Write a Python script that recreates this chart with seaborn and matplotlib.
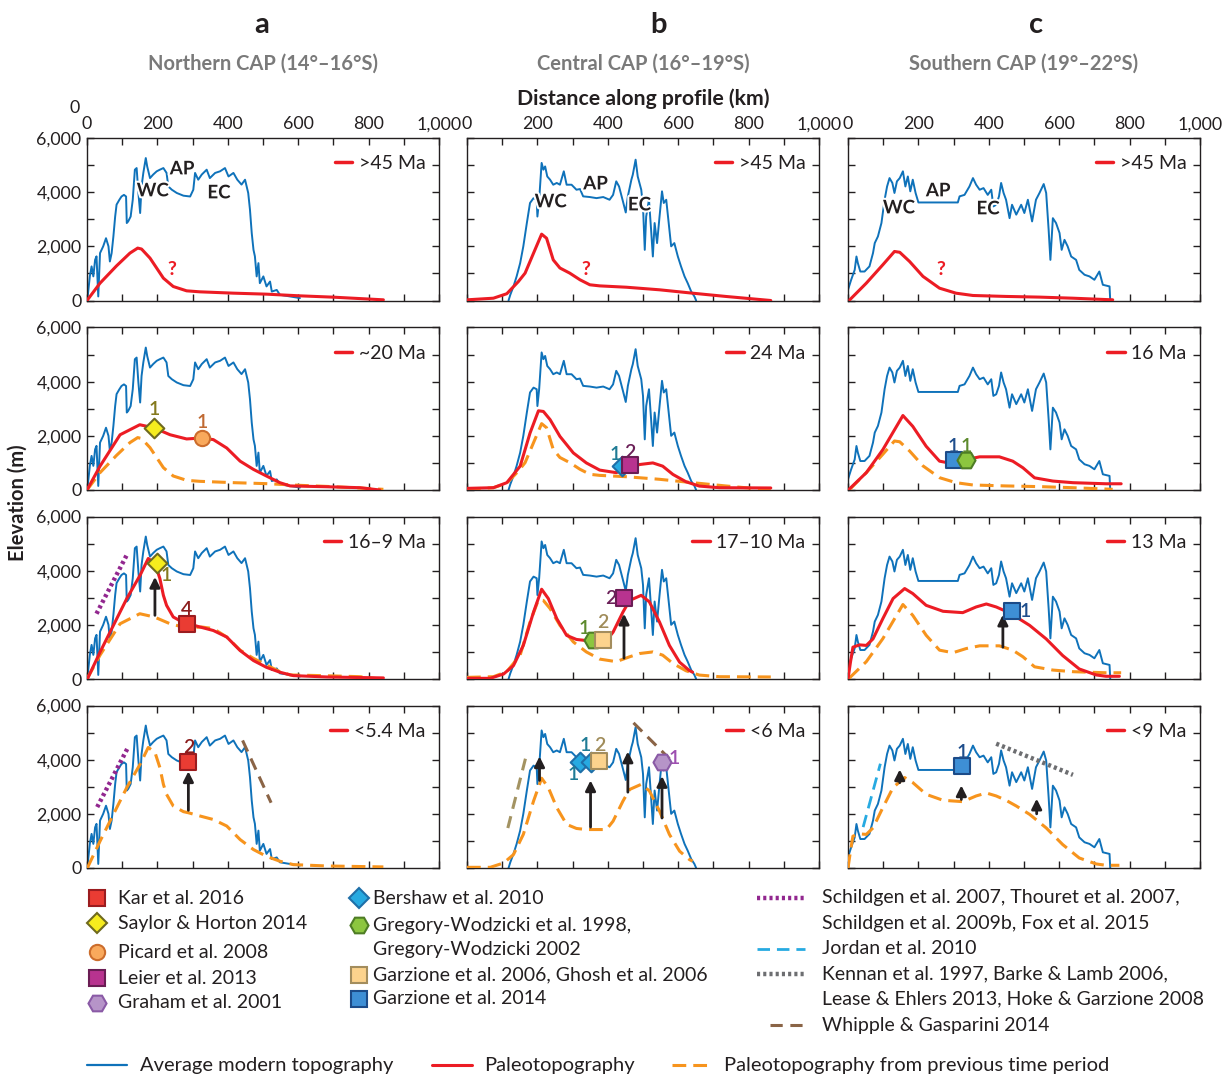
import matplotlib
matplotlib.use("Agg")
import matplotlib.pyplot as plt
import matplotlib.patheffects as pe
from matplotlib.lines import Line2D
import seaborn as sns
import numpy as np

# ---------------- DATA ----------------
# Average modern topography (km along profile, elevation m)
TOPO_A_KM = [2, 8, 13, 18, 23, 27, 32, 37, 46, 54, 61, 65, 70, 75, 80, 84, 92, 98, 105, 111,
             113, 117, 124, 130, 136, 141, 146, 151, 155, 160, 167, 171, 179, 188, 198, 207, 217, 226, 231, 241,
             255, 274, 293, 302, 307, 316, 326, 340, 349, 364, 378, 392, 402, 416, 427, 439, 449, 458, 463, 468,
             473, 477, 482, 487, 491, 501, 510, 520, 525, 539, 548, 567, 605]
TOPO_A_M = [150, 890, 1260, 890, 1500, 1630, 150, 1750, 2000, 2300, 2000, 1440, 1750, 2370, 3100, 3540, 3720, 3840, 3900, 3840,
            2860, 2920, 3100, 3720, 4830, 4890, 3970, 3230, 4210, 4710, 5260, 4950, 4520, 4650, 4770, 4830, 4890, 4710, 4210, 4090,
            3970, 3870, 3840, 4090, 4710, 4460, 4650, 4830, 4520, 4710, 4770, 4890, 4580, 4710, 4460, 4280, 4460, 3970, 3350, 2490,
            1870, 1630, 890, 1380, 640, 890, 520, 700, 330, 390, 210, 170, 90]
TOPO_B_KM = [118, 123, 132, 141, 151, 160, 170, 179, 189, 198, 200, 205, 212, 217, 222, 228, 236, 245, 255, 264,
             275, 283, 297, 311, 321, 330, 349, 368, 387, 405, 415, 424, 432, 443, 451, 457, 467, 471, 479, 485,
             495, 500, 505, 509, 517, 523, 528, 533, 540, 547, 554, 559, 566, 573, 580, 589, 599, 608, 618, 627,
             637, 646, 651]
TOPO_B_M = [0, 210, 520, 890, 1380, 2000, 2860, 3600, 3780, 3720, 3100, 3720, 5080, 4830, 4950, 4580, 4460, 4275, 4340, 4275,
            4770, 4275, 4275, 4090, 4115, 3845, 3820, 3780, 3820, 3720, 3900, 4400, 4210, 3660, 3250, 3845, 4460, 4645, 5200, 4580,
            4090, 3475, 1870, 3100, 3720, 2610, 1625, 2860, 2120, 3100, 4030, 3600, 3720, 2860, 2000, 2120, 1625, 1260, 890, 640,
            330, 150, 0]
TOPO_C_KM = [0, 9, 19, 24, 28, 35, 47, 61, 71, 76, 85, 95, 104, 111, 118, 126, 132, 139, 147, 156,
             163, 170, 177, 184, 192, 200, 312, 317, 331, 345, 355, 364, 374, 385, 397, 407, 413, 421, 429, 435,
             442, 449, 459, 466, 478, 492, 501, 511, 523, 534, 544, 556, 563, 570, 575, 582, 591, 601, 607, 615,
             624, 634, 648, 657, 672, 686, 700, 714, 724, 743, 745]
TOPO_C_M = [395, 765, 1130, 1625, 1380, 1070, 1070, 1260, 1750, 2120, 2365, 2860, 3720, 4210, 4520, 4340, 3970, 4400, 4520, 4770,
            4210, 4580, 4030, 4460, 3970, 3620, 3620, 3845, 3900, 4210, 4520, 4275, 4090, 4150, 3900, 4090, 3475, 3535, 3845, 4340,
            3970, 3720, 3040, 3535, 3170, 3535, 3230, 3720, 2920, 3720, 3970, 4300, 3970, 2610, 1500, 3040, 2860, 2490, 1870, 2240,
            2000, 1625, 1500, 1130, 950, 890, 765, 1070, 580, 520, 0]

# Paleotopography, column a (Northern CAP)
PALEO_A1_KM = [0, 37, 84, 122, 144, 155, 179, 198, 217, 245, 283, 321, 416, 510, 605, 700, 842]
PALEO_A1_M = [0, 640, 1280, 1750, 1935, 1900, 1565, 1195, 825, 517, 357, 320, 271, 234, 172, 123, 25]
PALEO_A2_KM = [0, 37, 94, 150, 191, 236, 283, 326, 359, 397, 435, 473, 510, 548, 577, 681, 776, 832]
PALEO_A2_M = [0, 880, 2040, 2410, 2290, 2040, 1885, 1920, 1860, 1550, 1065, 760, 515, 270, 150, 120, 85, 0]
PALEO_A3_KM = [1, 37, 75, 113, 151, 174, 193, 207, 217, 226, 245, 274, 288, 321, 359, 397, 435, 473, 510, 548, 586, 681, 842]
PALEO_A3_M = [0, 990, 1980, 2970, 3835, 4450, 4270, 3710, 3090, 2720, 2290, 2080, 2040, 1920, 1790, 1550, 1050, 680, 430, 250, 125, 75, 40]
# column b (Central CAP)
PALEO_B1_KM = [0, 75, 113, 146, 165, 193, 212, 226, 245, 264, 292, 321, 349, 377, 453, 547, 641, 735, 863]
PALEO_B1_M = [25, 85, 250, 700, 1010, 1870, 2450, 2300, 1500, 1200, 1010, 765, 580, 540, 490, 395, 270, 150, 0]
PALEO_B2_KM = [0, 75, 113, 151, 179, 203, 217, 236, 264, 302, 339, 377, 424, 462, 490, 528, 556, 585, 622, 660, 717, 863]
PALEO_B2_M = [60, 85, 270, 880, 2100, 2925, 2900, 2600, 1980, 1370, 1000, 735, 640, 820, 940, 1000, 880, 575, 305, 145, 85, 75]
PALEO_B3_KM = [0, 66, 104, 132, 160, 189, 212, 231, 255, 283, 311, 339, 396, 415, 443, 462, 495, 518, 547, 575, 604, 632, 641]
PALEO_B3_M = [25, 25, 185, 495, 1240, 2470, 3315, 2970, 2230, 1610, 1460, 1420, 1420, 1730, 2470, 2900, 3090, 2850, 2100, 1240, 620, 310, 250]
# column c (Southern CAP)
PALEO_C1_KM = [5, 52, 99, 132, 147, 175, 213, 260, 307, 355, 449, 544, 639, 752]
PALEO_C1_M = [25, 640, 1320, 1810, 1780, 1440, 890, 455, 270, 185, 150, 125, 85, 25]
PALEO_C2_KM = [3, 52, 99, 156, 184, 222, 260, 298, 336, 374, 430, 468, 497, 530, 582, 639, 733, 776]
PALEO_C2_M = [25, 640, 1490, 2750, 2350, 1615, 1065, 970, 1125, 1225, 1225, 1065, 820, 450, 330, 270, 230, 230]
PALEO_C3_KM = [0, 7, 14, 33, 52, 71, 99, 128, 161, 184, 222, 270, 326, 364, 393, 421, 449, 478, 516, 563, 610, 657, 705, 733, 771]
PALEO_C3_M = [0, 620, 1175, 1260, 1240, 1480, 2230, 2970, 3340, 3155, 2720, 2500, 2450, 2660, 2770, 2660, 2500, 2290, 1980, 1480, 865, 370, 150, 100, 100]

AGES = [[">45 Ma", "~20 Ma", "16\u20139 Ma", "<5.4 Ma"],
        [">45 Ma", "24 Ma", "17\u201310 Ma", "<6 Ma"],
        [">45 Ma", "16 Ma", "13 Ma", "<9 Ma"]]
REGIONS = ["Northern CAP (14\u00b0\u201316\u00b0S)", "Central CAP (16\u00b0\u201319\u00b0S)", "Southern CAP (19\u00b0\u201322\u00b0S)"]
PANEL_LETTERS = ["a", "b", "c"]
X_TICKS = [0, 200, 400, 600, 800, 1000]
Y_TICKS = [0, 2000, 4000, 6000]

# Physiographic labels (row 1): WC, AP, EC
PHYS_TEXT = ["WC", "AP", "EC"]
PHYS_KM = [[187, 270, 375], [238, 365, 490], [145, 256, 398]]
PHYS_M = [[4050, 4860, 3975], [3645, 4305, 3530], [3420, 4050, 3385]]
QMARK_KM = [240, 339, 265]
QMARK_M = [1130, 1130, 1130]

# Proxy data points: (row, column)
PROXY_ROW = [1, 1, 1, 1, 1, 1, 2, 2, 2, 2, 2, 2, 3, 3, 3, 3, 3, 3]
PROXY_COL = [0, 0, 1, 1, 2, 2, 0, 0, 1, 1, 1, 2, 0, 1, 1, 1, 1, 2]
PROXY_SRC = ["saylor", "picard", "bershaw", "leier", "garz14", "gregory",
             "saylor", "kar", "gregory", "garz06", "leier", "garz14",
             "kar", "bershaw", "bershaw", "garz06", "graham", "garz14"]
PROXY_KM = [191, 326, 440, 464, 300, 336, 198, 285, 358, 385, 446, 466, 288, 321, 351, 375, 554, 324]
PROXY_M = [2290, 1920, 880, 920, 1125, 1125, 4270, 2040, 1450, 1450, 2990, 2500, 3910, 3910, 3910, 3935, 3910, 3750]
PROXY_NUM = ["1", "1", "1", "2", "1", "1", "1", "4", "1", "2", "2", "1", "2", "1", "1", "2", "1", "1"]
PROXY_LBL_DX = [0, 0, -7, -1, 0, 0, 9, -1, -9, 0, -13, 13, 0, -7, -5, 1, 12, 0]
PROXY_LBL_DY = [18, 15, 12, 13, 13, 13, -12, 14, 11, 17, 0, 0, 15, -12, 17, 16, 4, 14]

# Uplift arrows
ARROW_ROW = [2, 2, 2, 3, 3, 3, 3, 3, 3, 3, 3]
ARROW_COL = [0, 1, 2, 0, 1, 1, 1, 1, 2, 2, 2]
ARROW_KM = [193, 446, 440, 288, 206, 351, 457, 554, 147, 322, 536]
ARROW_FROM = [2350, 770, 1175, 2130, 3235, 1510, 2800, 1845, 3150, 2530, 2000]
ARROW_TO = [3770, 2410, 2375, 3570, 4120, 3235, 4300, 3395, 3640, 3050, 2560]

# Published paleo-surface constraints
REF_ROW = [2, 3, 3, 3, 3, 3, 3]
REF_COL = [0, 0, 0, 1, 1, 2, 2]
REF_KIND = ["schildgen", "schildgen", "whipple", "whipple_l", "whipple", "jordan", "kennan"]
REF_KM0 = [27, 29, 442, 116, 473, 43, 421]
REF_KM1 = [113, 117, 523, 166, 575, 92, 639]
REF_M0 = [2410, 2250, 4710, 1475, 5360, 1510, 4590]
REF_M1 = [4580, 4465, 2410, 4035, 4035, 3850, 3440]

# Legend contents
MARKER_LEG_1 = ["kar", "saylor", "picard", "leier", "graham"]
MARKER_LEG_1_TXT = ["Kar et al. 2016", "Saylor & Horton 2014", "Picard et al. 2008", "Leier et al. 2013", "Graham et al. 2001"]
MARKER_LEG_2 = ["bershaw", "gregory", "garz06", "garz14"]
MARKER_LEG_2_TXT = ["Bershaw et al. 2010", "Gregory-Wodzicki et al. 1998,\nGregory-Wodzicki 2002",
                    "Garzione et al. 2006, Ghosh et al. 2006", "Garzione et al. 2014"]
LINE_LEG = ["schildgen", "jordan", "kennan", "whipple"]
LINE_LEG_TXT = ["Schildgen et al. 2007, Thouret et al. 2007,\nSchildgen et al. 2009b, Fox et al. 2015",
                "Jordan et al. 2010",
                "Kennan et al. 1997, Barke & Lamb 2006,\nLease & Ehlers 2013, Hoke & Garzione 2008",
                "Whipple & Gasparini 2014"]
BOTTOM_LEG_TXT = ["Average modern topography", "Paleotopography", "Paleotopography from previous time period"]

# ---------------- STYLE ----------------
BLUE = "#0f72ba"
RED = "#ec1c24"
ORANGE = "#f7941d"
DARK = "#231f20"
GRAY_TITLE = "#7a7a7a"

MSTYLE = {
    "kar": dict(marker="s", fc="#ea3c33", ec="#9b1c1f", ms=11, tc="#8b1c1c"),
    "saylor": dict(marker="D", fc="#f6ec1e", ec="#6f6a1e", ms=10, tc="#857a1e"),
    "picard": dict(marker="o", fc="#f9a95c", ec="#cc6d2c", ms=11, tc="#c06a33"),
    "leier": dict(marker="s", fc="#b8338f", ec="#6a1d54", ms=11, tc="#6b2058"),
    "graham": dict(marker="H", fc="#b694c8", ec="#8a5aa6", ms=13, tc="#9d4fb0"),
    "bershaw": dict(marker="D", fc="#27aae1", ec="#1f6fa8", ms=10, tc="#1f7b95"),
    "gregory": dict(marker="H", fc="#8cc63f", ec="#4e7d25", ms=13, tc="#5d8a2d"),
    "garz06": dict(marker="s", fc="#fcd38d", ec="#a38d5d", ms=11, tc="#a08c5a"),
    "garz14": dict(marker="s", fc="#3e8fd5", ec="#1c4b88", ms=11, tc="#1f4e8c"),
}
LSTYLE = {
    "schildgen": dict(color="#92278f", lw=3.2, dashes=(0.7, 0.7)),
    "jordan": dict(color="#27aae1", lw=2.0, dashes=(4.5, 2.5)),
    "kennan": dict(color="#6d6e71", lw=3.2, dashes=(0.7, 0.7)),
    "whipple": dict(color="#8a6446", lw=2.2, dashes=(4.0, 2.5)),
    "whipple_l": dict(color="#a39362", lw=2.2, dashes=(4.0, 2.5)),
}

sns.set_theme(style="ticks")
plt.rcParams["font.family"] = ["Lato", "DejaVu Sans"]
plt.rcParams["axes.linewidth"] = 1.0

W, H = 1224, 1077
fig = plt.figure(figsize=(W / 100, H / 100), dpi=100)

COL_LEFT = [87, 467, 848]
ROW_TOP = [138, 327.5, 516.5, 705.5]
AX_W, AX_H = 352, 162.5
LETTER_X = [262, 659, 1036]

topo = [(TOPO_A_KM, TOPO_A_M), (TOPO_B_KM, TOPO_B_M), (TOPO_C_KM, TOPO_C_M)]
paleo = [[(PALEO_A1_KM, PALEO_A1_M), (PALEO_A2_KM, PALEO_A2_M), (PALEO_A3_KM, PALEO_A3_M)],
         [(PALEO_B1_KM, PALEO_B1_M), (PALEO_B2_KM, PALEO_B2_M), (PALEO_B3_KM, PALEO_B3_M)],
         [(PALEO_C1_KM, PALEO_C1_M), (PALEO_C2_KM, PALEO_C2_M), (PALEO_C3_KM, PALEO_C3_M)]]


def line(ax, x, y, **kw):
    sns.lineplot(x=x, y=y, ax=ax, sort=False, estimator=None, legend=False, **kw)
    return ax.lines[-1]


axes = {}
for c in range(3):
    for r in range(4):
        l, t = COL_LEFT[c], ROW_TOP[r]
        ax = fig.add_axes([l / W, 1 - (t + AX_H) / H, AX_W / W, AX_H / H])
        axes[(r, c)] = ax
        ax.set_xlim(0, 1000)
        ax.set_ylim(0, 6000)
        ax.set_xticks(np.arange(0, 1001, 100))
        ax.set_yticks(np.arange(0, 6001, 1000))
        ax.tick_params(direction="in", top=True, right=True, length=5, width=1,
                       labelsize=12.8, colors=DARK, pad=4)
        for s in ax.spines.values():
            s.set_color(DARK)
            s.set_linewidth(1.0)
        if r == 0:
            ax.tick_params(labeltop=True, labelbottom=False)
            ax.set_xticklabels([f"{v:,}" if v in X_TICKS else "" for v in range(0, 1001, 100)])
        else:
            ax.tick_params(labelbottom=False)
        if c == 0:
            ax.set_yticklabels([f"{v:,}" if v in Y_TICKS else "" for v in range(0, 6001, 1000)])
        else:
            ax.tick_params(labelleft=False)
        ax.set_xlabel("")
        ax.set_ylabel("")

        tk, tm = topo[c]
        line(ax, tk, tm, color=BLUE, lw=1.4, zorder=2)
        if r >= 1:
            pk, pm = paleo[c][r - 1]
            ln = line(ax, pk, pm, color=ORANGE, lw=2.2, zorder=3, linestyle="--")
            ln.set_dashes([4.5, 2.3])
        if r <= 2:
            pk, pm = paleo[c][r]
            line(ax, pk, pm, color=RED, lw=2.2, zorder=4)
        leg = ax.legend(handles=[Line2D([0], [0], color=RED, lw=2.5)], labels=[AGES[c][r]],
                        loc="upper right", bbox_to_anchor=(0.962, 0.895), frameon=False,
                        fontsize=14, handlelength=0.9, handletextpad=0.35,
                        borderaxespad=0, borderpad=0.0)
        for tx in leg.get_texts():
            tx.set_color(DARK)

# Row 1 annotations
for c in range(3):
    ax = axes[(0, c)]
    for s, k, m in zip(PHYS_TEXT, PHYS_KM[c], PHYS_M[c]):
        ax.text(k, m, s, fontsize=13.5, fontweight="bold", color=DARK, ha="center", va="center",
                zorder=6, path_effects=[pe.withStroke(linewidth=3, foreground="white")])
    ax.text(QMARK_KM[c], QMARK_M[c], "?", fontsize=14, fontweight="bold", color=RED,
            ha="center", va="center", zorder=6)

# Reference constraint lines
for r, c, kind, k0, k1, m0, m1 in zip(REF_ROW, REF_COL, REF_KIND, REF_KM0, REF_KM1, REF_M0, REF_M1):
    st = LSTYLE[kind]
    ln = line(axes[(r, c)], [k0, k1], [m0, m1], color=st["color"], lw=st["lw"], zorder=5, linestyle="--")
    ln.set_dashes(list(st["dashes"]))

# Arrows
for r, c, k, m0, m1 in zip(ARROW_ROW, ARROW_COL, ARROW_KM, ARROW_FROM, ARROW_TO):
    axes[(r, c)].annotate("", xy=(k, m1), xytext=(k, m0),
                          arrowprops=dict(arrowstyle="-|>", color=DARK, lw=2.0, mutation_scale=15,
                                          shrinkA=0, shrinkB=0), zorder=6)

# Proxy markers and labels
for r, c, src, k, m, num, dx, dy in zip(PROXY_ROW, PROXY_COL, PROXY_SRC, PROXY_KM, PROXY_M,
                                        PROXY_NUM, PROXY_LBL_DX, PROXY_LBL_DY):
    st = MSTYLE[src]
    ax = axes[(r, c)]
    sns.scatterplot(x=[k], y=[m], ax=ax, marker=st["marker"], s=st["ms"] ** 2, color=st["fc"],
                    edgecolor=st["ec"], linewidth=1.5, zorder=7, legend=False, clip_on=False)
    ax.annotate(num, xy=(k, m), xytext=(dx, dy), textcoords="offset pixels", fontsize=14,
                fontweight="semibold", color=st["tc"], ha="center", va="center", zorder=8)


# Figure texts
def ftext(x, y, s, **kw):
    fig.text(x / W, 1 - y / H, s, **kw)


for c in range(3):
    cx = COL_LEFT[c] + AX_W / 2
    ftext(LETTER_X[c], 25, PANEL_LETTERS[c], fontsize=21, fontweight="bold", color=DARK, ha="center", va="center")
    ftext(cx, 64, REGIONS[c], fontsize=14.5, fontweight="bold", color=GRAY_TITLE, ha="center", va="center")
ftext(643, 99, "Distance along profile (km)", fontsize=15.3, fontweight="bold", color=DARK, ha="center", va="center")
ftext(75, 108, "0", fontsize=12.8, color=DARK, ha="center", va="center")
ftext(18, 503, "Elevation (m)", fontsize=14.5, fontweight="bold", color=DARK, ha="center", va="center", rotation=90)

# Legends drawn on an overlay
lax = fig.add_axes([0, 0, 1, 1])
lax.set_xlim(0, W)
lax.set_ylim(H, 0)
lax.axis("off")
LEG_FS = 14
LINE_STEP = 25


def leg_text(x, y, txt, fs=LEG_FS):
    for i, part in enumerate(txt.split("\n")):
        lax.text(x, y + i * LINE_STEP, part, fontsize=fs, color=DARK, va="center", ha="left")


col1_y = [898, 923, 952, 978, 1003]
for src, txt, y in zip(MARKER_LEG_1, MARKER_LEG_1_TXT, col1_y):
    st = MSTYLE[src]
    lax.plot([97], [y], marker=st["marker"], ms=st["ms"], mfc=st["fc"], mec=st["ec"], mew=1.5, ls="none")
    leg_text(118, y, txt)
col2_y = [898, 925, 975, 999]
for src, txt, y in zip(MARKER_LEG_2, MARKER_LEG_2_TXT, col2_y):
    st = MSTYLE[src]
    lax.plot([359], [y], marker=st["marker"], ms=st["ms"], mfc=st["fc"], mec=st["ec"], mew=1.5, ls="none")
    leg_text(373, y, txt)
col3_y = [898, 949, 974, 1025]
for kind, txt, y in zip(LINE_LEG, LINE_LEG_TXT, col3_y):
    st = LSTYLE[kind]
    x0 = 770 if kind == "whipple" else 757
    ln, = lax.plot([x0, 805], [y, y], color=st["color"], lw=st["lw"])
    ln.set_dashes(list(st["dashes"]))
    leg_text(822, y, txt)

BOT_FS = 14.5
lax.plot([87, 127], [1065, 1065], color=BLUE, lw=1.6)
leg_text(140, 1065, BOTTOM_LEG_TXT[0], BOT_FS)
lax.plot([432, 472], [1065, 1065], color=RED, lw=2.2)
leg_text(484, 1065, BOTTOM_LEG_TXT[1], BOT_FS)
ln, = lax.plot([672, 712], [1065, 1065], color=ORANGE, lw=2.2)
ln.set_dashes([4.5, 2.3])
leg_text(724, 1065, BOTTOM_LEG_TXT[2], BOT_FS)

fig.savefig("out.png", dpi=100)
